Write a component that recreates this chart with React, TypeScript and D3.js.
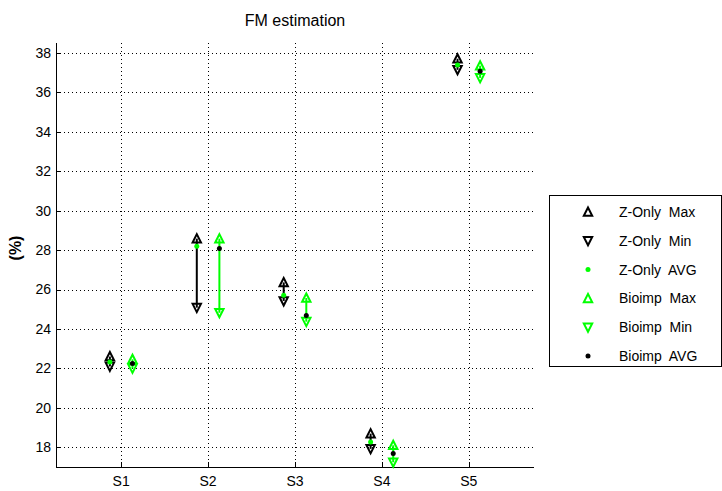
import React from "react";
import * as d3 from "d3";

const subjects = ["S1", "S2", "S3", "S4", "S5"];
const zOnlyMax = [22.6, 28.58, 26.36, 18.69, 37.7];
const zOnlyMin = [22.1, 25.08, 25.42, 17.92, 37.14];
const zOnlyAvg = [22.32, 28.2, 25.71, 18.27, 37.39];
const bioMax = [22.46, 28.58, 25.57, 18.1, 37.35];
const bioMin = [22.0, 24.82, 24.37, 17.24, 36.73];
const bioAvg = [22.25, 28.08, 24.68, 17.68, 37.07];
const yTickValues = [18, 20, 22, 24, 26, 28, 30, 32, 34, 36, 38];
const legendLabels = ["Z-Only  Max", "Z-Only  Min", "Z-Only  AVG", "Bioimp  Max", "Bioimp  Min", "Bioimp  AVG"];

const GREEN = "#00ff00";
const FONT = "'Liberation Sans', Arial, Helvetica, sans-serif";

const left = 56, right = 534, top = 43, bottom = 467;
const x = d3.scaleLinear().domain([0.25, 5.75]).range([left, right]);
const y = d3.scaleLinear().domain([17, 38.5]).range([bottom, top]);
const offset = 0.13;

const upTri = (cx: number, cy: number) =>
  `M${cx},${cy - 4.5}L${cx + 4.2},${cy + 3.8}L${cx - 4.2},${cy + 3.8}Z`;
const downTri = (cx: number, cy: number) =>
  `M${cx},${cy + 4.5}L${cx + 4.2},${cy - 3.8}L${cx - 4.2},${cy - 3.8}Z`;

function Series({ maxV, minV, avgV, dx, color, dotColor }: any) {
  return (
    <g>
      {subjects.map((s, i) => (
        <line key={"l" + s} x1={x(i + 1 + dx)} x2={x(i + 1 + dx)} y1={y(maxV[i])} y2={y(minV[i])} stroke={color} strokeWidth={2} />
      ))}
      {subjects.map((s, i) => (
        <path key={"u" + s} d={upTri(x(i + 1 + dx), y(maxV[i]))} fill="none" stroke={color} strokeWidth={2} strokeLinejoin="miter" />
      ))}
      {subjects.map((s, i) => (
        <path key={"d" + s} d={downTri(x(i + 1 + dx), y(minV[i]))} fill="none" stroke={color} strokeWidth={2} strokeLinejoin="miter" />
      ))}
      {subjects.map((s, i) => (
        <circle key={"a" + s} cx={x(i + 1 + dx)} cy={y(avgV[i])} r={2.5} fill={dotColor} />
      ))}
    </g>
  );
}

export default function App() {
  const legendX = 549, legendY = 195, legendW = 172, legendH = 171;
  const rowY = (i: number) => 212 + i * 28.8;
  return (
    <svg width={722} height={491} style={{ position: "absolute", left: 0, top: 0, background: "#fff" }} fontFamily={FONT}>
      <rect x={0} y={0} width={722} height={491} fill="#fff" />
      {/* grid */}
      {yTickValues.map((t) => (
        <line key={"gy" + t} x1={left} x2={right} y1={Math.round(y(t)) + 0.5} y2={Math.round(y(t)) + 0.5} stroke="#000" strokeWidth={1} strokeDasharray="1,3" />
      ))}
      {subjects.map((s, i) => (
        <line key={"gx" + s} x1={Math.round(x(i + 1)) + 0.5} x2={Math.round(x(i + 1)) + 0.5} y1={top} y2={bottom} stroke="#000" strokeWidth={1} strokeDasharray="1,3" />
      ))}
      {/* axes */}
      <line x1={left + 0.5} x2={left + 0.5} y1={top} y2={bottom} stroke="#000" />
      <line x1={left} x2={right} y1={bottom + 0.5} y2={bottom + 0.5} stroke="#000" />
      {yTickValues.map((t) => (
        <g key={"ty" + t}>
          <line x1={left} x2={left + 5} y1={Math.round(y(t)) + 0.5} y2={Math.round(y(t)) + 0.5} stroke="#000" />
          <text x={51} y={y(t)} dy="0.35em" textAnchor="end" fontSize={14} fill="#000">{t}</text>
        </g>
      ))}
      {subjects.map((s, i) => (
        <g key={"tx" + s}>
          <line x1={Math.round(x(i + 1)) + 0.5} x2={Math.round(x(i + 1)) + 0.5} y1={bottom} y2={bottom - 5} stroke="#000" />
          <text x={x(i + 1)} y={486} textAnchor="middle" fontSize={14} fill="#000">{s}</text>
        </g>
      ))}
      <text x={295} y={26} textAnchor="middle" fontSize={16} fill="#000">FM estimation</text>
      <text transform={`translate(21,248) rotate(-90)`} textAnchor="middle" fontSize={16} fontWeight="bold" fill="#000">(%)</text>
      {/* data */}
      <Series maxV={zOnlyMax} minV={zOnlyMin} avgV={zOnlyAvg} dx={-offset} color="#000" dotColor={GREEN} />
      <Series maxV={bioMax} minV={bioMin} avgV={bioAvg} dx={offset} color={GREEN} dotColor="#000" />
      {/* legend */}
      <rect x={legendX + 0.5} y={legendY + 0.5} width={legendW} height={legendH} fill="#fff" stroke="#000" />
      {legendLabels.map((lab, i) => {
        const cy = rowY(i);
        const color = i < 3 ? "#000" : GREEN;
        const kind = i % 3;
        return (
          <g key={lab}>
            {kind === 0 && <path d={upTri(588, cy)} fill="none" stroke={color} strokeWidth={2} />}
            {kind === 1 && <path d={downTri(588, cy)} fill="none" stroke={color} strokeWidth={2} />}
            {kind === 2 && <circle cx={588} cy={cy} r={2.5} fill={i < 3 ? GREEN : "#000"} />}
            <text x={619} y={cy} dy="0.35em" fontSize={14} fill="#000" style={{ whiteSpace: "pre" }}>{lab}</text>
          </g>
        );
      })}
    </svg>
  );
}
